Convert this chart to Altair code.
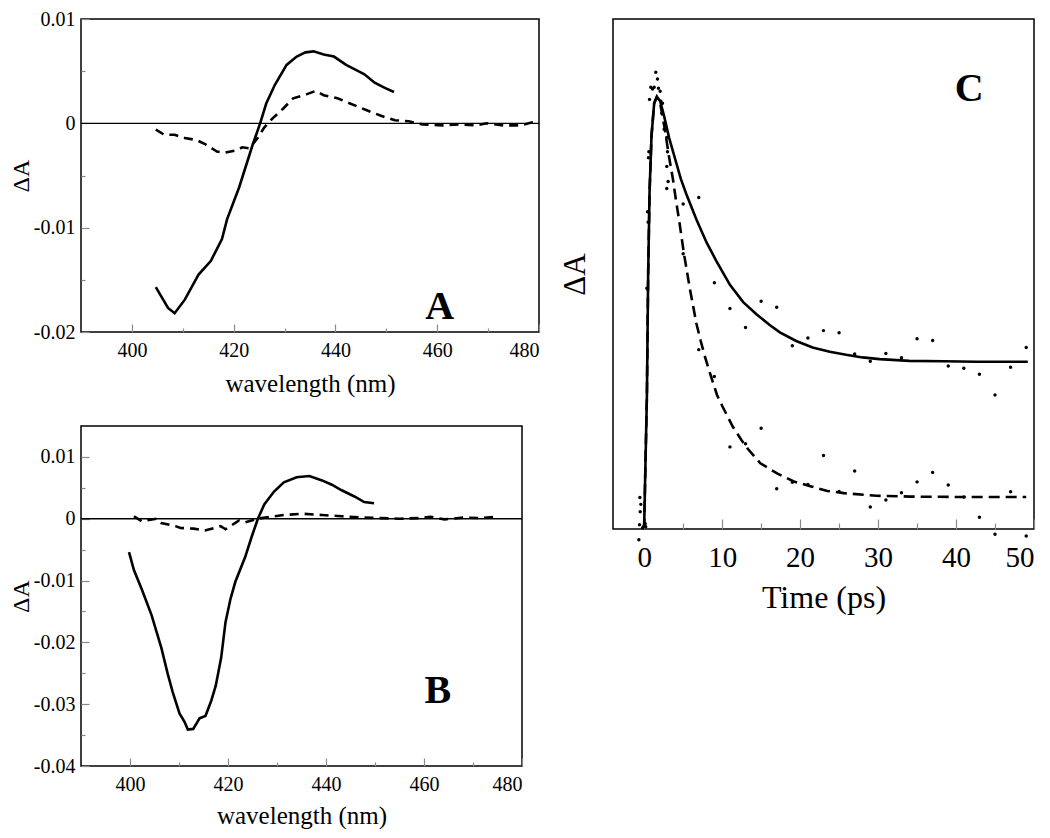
import altair as alt
import pandas as pd

FONT = "Liberation Serif"
TICK = "#8a8a8a"

# ---------------- Panel A ----------------
a_solid_x = [404.7, 407.1, 408.4, 410.4, 413.1, 415.5, 417.7, 418.7, 421.1, 423.7, 425.2, 426.4, 428.1,
             430.4, 432.4, 434.1, 435.7, 437.7, 439.7, 442.1, 444.1, 445.7, 447.7, 449.7, 451.5]
a_solid_y = [-0.0157, -0.0177, -0.0182, -0.0169, -0.0145, -0.0132, -0.0111, -0.0092, -0.0061, -0.0021,
             0.0000, 0.0019, 0.0037, 0.0056, 0.0064, 0.0068, 0.0069, 0.0066, 0.0064, 0.0056, 0.0051,
             0.0047, 0.0039, 0.0034, 0.0030]
a_dash_x = [404.7, 406.4, 408.4, 410.4, 412.7, 414.4, 416.7, 418.4, 420.4, 421.7, 423.1, 424.7, 426.0,
            427.7, 429.7, 431.7, 434.4, 436.1, 437.7, 440.4, 442.4, 444.4, 446.4, 449.1, 451.7, 454.4,
            457.1, 461.1, 464.4, 467.7, 469.7, 473.1, 476.4, 478.7, 480.0]
a_dash_y = [-0.0006, -0.0011, -0.0011, -0.0014, -0.0016, -0.0020, -0.0027, -0.0028, -0.0026, -0.0023,
            -0.0024, -0.0014, -0.0004, 0.0005, 0.0014, 0.0024, 0.0028, 0.0031, 0.0027, 0.0024, 0.0020,
            0.0016, 0.0012, 0.0007, 0.0003, 0.0002, -0.0001, -0.0002, -0.0001, -0.0002, 0.0000,
            -0.0002, -0.0002, 0.0001, 0.0000]

# ---------------- Panel B ----------------
b_solid_x = [399.8, 400.8, 402.4, 404.4, 406.4, 407.7, 408.7, 410.1, 411.1, 411.8, 412.9, 414.2, 415.4,
             416.6, 417.5, 418.6, 419.5, 420.5, 421.5, 423.5, 424.8, 426.1, 427.4, 429.4, 431.4, 434.0,
             436.6, 439.2, 441.2, 443.2, 445.8, 447.8, 449.8]
b_solid_y = [-0.0054, -0.0083, -0.0114, -0.0156, -0.0209, -0.0251, -0.0280, -0.0315, -0.0328, -0.0341,
             -0.0340, -0.0323, -0.0319, -0.0294, -0.0270, -0.0225, -0.0167, -0.0130, -0.0102, -0.0062,
             -0.0030, 0.0000, 0.0023, 0.0044, 0.0059, 0.0067, 0.0069, 0.0062, 0.0055, 0.0046, 0.0036,
             0.0027, 0.0025]
b_dash_x = [400.8, 402.4, 405.4, 406.4, 409.3, 410.3, 413.0, 415.3, 417.6, 418.5, 419.5, 422.2, 423.5,
            426.1, 428.4, 431.4, 435.3, 439.2, 443.2, 447.1, 451.1, 455.0, 459.0, 461.3, 464.2, 468.2,
            471.3, 474.4]
b_dash_y = [0.0004, -0.0004, 0.0000, -0.0007, -0.0012, -0.0015, -0.0016, -0.0019, -0.0014, -0.0012,
            -0.0017, -0.0003, -0.0006, 0.0000, 0.0003, 0.0006, 0.0008, 0.0006, 0.0004, 0.0002, 0.0001,
            0.0000, 0.0001, 0.0003, -0.0001, 0.0002, 0.0001, 0.0003]

# ---------------- Panel C ----------------
c_solid_t = [-0.2, 0.0, 0.35, 0.51, 0.69, 0.94, 1.28, 1.62, 2.05, 2.56, 3.2, 4.1, 4.7, 5.4, 6.7, 8.0,
             9.26, 11.0, 12.7, 14.4, 16.1, 17.4, 19.5, 21.6, 23.8, 25.9, 28.0, 30.2, 34.0, 38.4, 42.6,
             49.2]
c_solid_v = [0.0, 0.01, 0.31, 0.59, 0.78, 0.91, 0.985, 1.0, 0.99, 0.955, 0.905, 0.848, 0.81, 0.775,
             0.716, 0.663, 0.62, 0.565, 0.525, 0.497, 0.472, 0.455, 0.435, 0.42, 0.41, 0.403, 0.397,
             0.393, 0.389, 0.388, 0.387, 0.387]
c_dash_t = [-0.2, 0.0, 0.35, 0.51, 0.69, 0.94, 1.28, 1.62, 2.05, 2.6, 3.2, 3.7, 4.04, 4.55, 5.11, 5.84,
            6.69, 7.25, 7.76, 8.4, 9.34, 10.03, 11.39, 12.47, 13.31, 14.9, 17.1, 19.2, 21.3, 23.5, 25.6,
            29.8, 34.1, 40.5, 49.0]
c_dash_v = [0.0, 0.01, 0.31, 0.59, 0.78, 0.91, 0.985, 1.0, 0.985, 0.93, 0.86, 0.808, 0.765, 0.706,
            0.636, 0.558, 0.476, 0.435, 0.401, 0.363, 0.310, 0.284, 0.236, 0.206, 0.185, 0.152, 0.128,
            0.110, 0.099, 0.088, 0.083, 0.077, 0.075, 0.074, 0.074]
c_pts_t = [-0.55, -0.43, -0.51, -0.6, -0.68, -0.2, 0.2, 0.13, 0.34, 0.51, 0.43, 0.55, 0.6, 0.68, 0.85,
           1.07, 1.28, 1.49, 1.71, 1.83, 2.05, 2.13, 2.26, 2.35, 2.56, 2.9, 2.99, 2.9, 3.07, 2.9,
           5, 7, 9, 11, 13, 15, 17, 19, 21, 23, 25, 27, 29, 31, 33, 35, 37, 39, 41, 43, 45, 47, 49,
           5, 7, 9, 11, 13, 15, 17, 19, 21, 23, 25, 27, 29, 31, 33, 35, 37, 39, 41, 43, 45, 47, 49]
c_pts_v = [0.073, 0.057, 0.040, 0.010, -0.025, 0.003, 0.005, 0.012, 0.557, 0.710, 0.734, 0.859, 0.873,
           0.994, 1.022, 1.018, 1.022, 1.057, 1.041, 1.020, 1.013, 0.990, 0.962, 0.985, 0.925, 0.906,
           0.873, 0.839, 0.804, 0.788,
           0.752, 0.767, 0.570, 0.510, 0.466, 0.527, 0.513, 0.424, 0.442, 0.459, 0.454, 0.405, 0.388,
           0.406, 0.396, 0.440, 0.436, 0.377, 0.372, 0.358, 0.310, 0.374, 0.420,
           0.637, 0.415, 0.353, 0.190, 0.197, 0.233, 0.093, 0.108, 0.103, 0.170, 0.087, 0.134, 0.051,
           0.067, 0.084, 0.109, 0.131, 0.102, 0.074, 0.027, -0.012, 0.086, -0.016]

# axis tick values
a_xmaj = [400, 420, 440, 460, 480]
a_xmin = [410, 430, 450, 470]
a_ymaj = [-0.02, -0.01, 0, 0.01]
a_ymin = [-0.015, -0.005, 0.005]
b_ymaj = [-0.04, -0.03, -0.02, -0.01, 0, 0.01]
b_ymin = [-0.035, -0.025, -0.015, -0.005, 0.005]
c_xmaj = [0, 10, 20, 30, 40, 50]
c_xmin = [5, 15, 25, 35, 45]

YLAB = "datum.value == 0 ? '0' : (datum.value < 0 ? '-' : '') + format(abs(datum.value), '.2f')"


def df(x, y):
    return pd.DataFrame({"x": x, "y": y})


def tick_layer(xdom, ydom, W, H, xv, yv, size):
    d = pd.DataFrame({"x": list(xdom), "y": list(ydom)})
    xa = alt.Axis(orient="top", offset=-H, values=xv, labels=False, domain=False, grid=False,
                  tickSize=size, tickColor=TICK, tickWidth=1.2, title=None)
    enc = dict(x=alt.X("x:Q", scale=alt.Scale(domain=list(xdom), nice=False, zero=False), axis=xa))
    if yv:
        ya = alt.Axis(orient="right", offset=-W, values=yv, labels=False, domain=False, grid=False,
                      tickSize=size, tickColor=TICK, tickWidth=1.2, title=None)
        enc["y"] = alt.Y("y:Q", scale=alt.Scale(domain=list(ydom), nice=False, zero=False), axis=ya)
    else:
        enc["y"] = alt.Y("y:Q", scale=alt.Scale(domain=list(ydom), nice=False, zero=False), axis=None)
    return alt.Chart(d).mark_point(opacity=0).encode(**enc)


def spectrum_panel(xdom, ydom, W, H, solid, dash, label, label_pos, ymaj, ymin, tpad_x):
    xs = alt.Scale(domain=list(xdom), nice=False, zero=False)
    ys = alt.Scale(domain=list(ydom), nice=False, zero=False)
    xax = alt.Axis(values=a_xmaj, title="wavelength (nm)", ticks=False, domain=False, grid=False,
                   labelFontSize=20, titleFontSize=25, labelPadding=8, titlePadding=tpad_x, format="d")
    yax = alt.Axis(values=ymaj, title="ΔA", ticks=False, domain=False, grid=False, labelExpr=YLAB,
                   labelFontSize=20, titleFontSize=24, labelPadding=6, titlePadding=0)
    base_x = alt.X("x:Q", scale=xs, axis=xax)
    base_y = alt.Y("y:Q", scale=ys, axis=yax)
    zero = alt.Chart(df([xdom[0]], [0])).mark_rule(color="black", strokeWidth=1.3).encode(y=base_y)
    l1 = alt.Chart(df(*solid)).mark_line(color="black", strokeWidth=2.6).encode(x=base_x, y="y:Q")
    l2 = alt.Chart(df(*dash)).mark_line(color="black", strokeWidth=2.6, strokeDash=[9, 6]).encode(
        x="x:Q", y="y:Q")
    txt = alt.Chart(pd.DataFrame({"x": [label_pos[0]], "y": [label_pos[1]], "t": [label]})).mark_text(
        font=FONT, fontSize=40, fontWeight="bold", align="center", baseline="alphabetic",
        color="black").encode(x="x:Q", y="y:Q", text="t:N")
    main = alt.layer(zero, l1, l2, txt)
    return alt.layer(
        main,
        tick_layer(xdom, ydom, W, H, a_xmaj, ymaj, 8),
        tick_layer(xdom, ydom, W, H, a_xmin, ymin, 4),
    ).resolve_scale(x="independent", y="independent").properties(width=W, height=H)


panel_a = spectrum_panel((390, 480), (-0.02, 0.01), 458, 313, (a_solid_x, a_solid_y),
                         (a_dash_x, a_dash_y), "A", (460.5, -0.0188), a_ymaj, a_ymin, 11)
panel_b = spectrum_panel((390, 480), (-0.04, 0.015), 441, 340, (b_solid_x, b_solid_y),
                         (b_dash_x, b_dash_y), "B", (462.8, -0.0298), b_ymaj, b_ymin, 9)

# Panel C
cW, cH = 421, 510
cxd, cyd = (-4, 50), (0, 1.18)
cxs = alt.Scale(domain=list(cxd), nice=False, zero=False)
cys = alt.Scale(domain=list(cyd), nice=False, zero=False)
cx = alt.X("x:Q", scale=cxs, axis=alt.Axis(values=c_xmaj, title="Time (ps)", ticks=False, domain=False,
                                             grid=False, labelFontSize=29, titleFontSize=32,
                                             labelPadding=14, titlePadding=10, format="d"))
cy = alt.Y("y:Q", scale=cys, axis=alt.Axis(title="ΔA", labels=False, ticks=False, domain=False,
                                             grid=False, titleFontSize=31, titlePadding=22))
c_l1 = alt.Chart(df(c_solid_t, c_solid_v)).mark_line(color="black", strokeWidth=2.6).encode(x=cx, y=cy)
c_l2 = alt.Chart(df(c_dash_t, c_dash_v)).mark_line(color="black", strokeWidth=2.6,
                                                    strokeDash=[11, 6]).encode(x="x:Q", y="y:Q")
c_pts = alt.Chart(df(c_pts_t, c_pts_v)).mark_circle(color="black", size=12, opacity=1).encode(
    x="x:Q", y="y:Q")
c_txt = alt.Chart(pd.DataFrame({"x": [41.7], "y": [0.99], "t": ["C"]})).mark_text(
    font=FONT, fontSize=40, fontWeight="bold", align="center", baseline="alphabetic",
    color="black").encode(x="x:Q", y="y:Q", text="t:N")
c_main = alt.layer(c_l1, c_l2, c_pts, c_txt)
panel_c = alt.layer(
    c_main,
    tick_layer(cxd, cyd, cW, cH, c_xmaj, [], 10),
    tick_layer(cxd, cyd, cW, cH, c_xmin, [], 6),
).resolve_scale(x="independent", y="independent").properties(width=cW, height=cH)

chart = alt.hconcat(
    alt.vconcat(panel_a, panel_b, spacing=25),
    panel_c,
    spacing=13,
).properties(
    padding={"left": 0, "top": 0, "right": 0, "bottom": 0},
    background="white",
).configure_view(
    stroke="black", strokeWidth=1.5
).configure_axis(
    labelFont=FONT, titleFont=FONT, labelColor="black", titleColor="black", titleFontWeight="normal"
)

chart.save("out.html", embed_options={"renderer": "svg", "actions": False})
